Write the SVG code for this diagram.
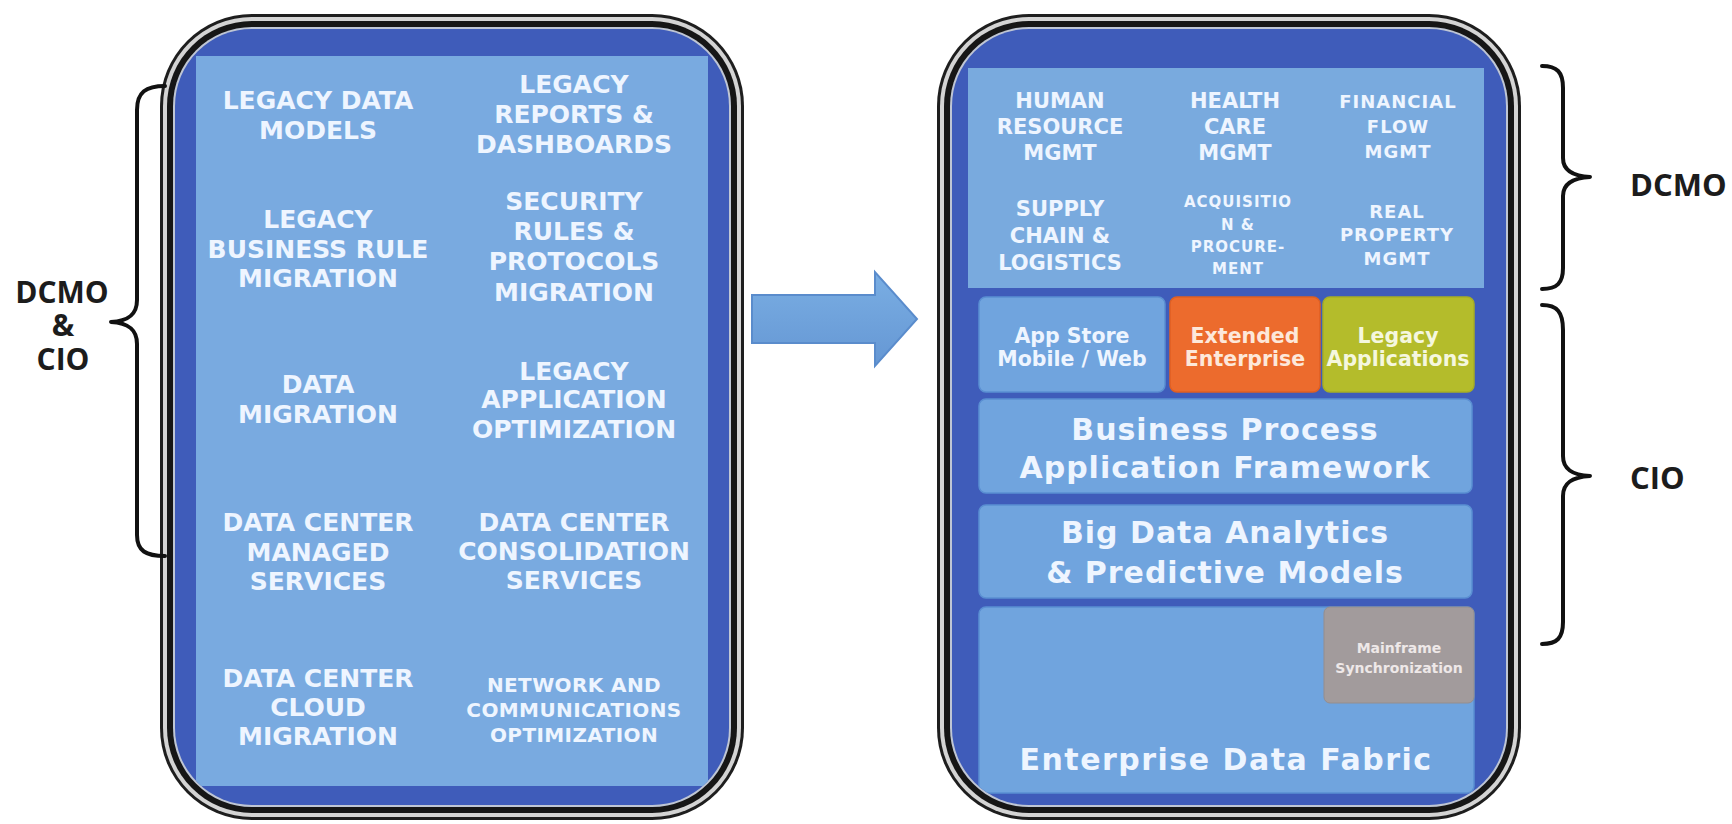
<svg xmlns="http://www.w3.org/2000/svg" width="1732" height="824" viewBox="0 0 1732 824">
<style>
.t{font-family:"DejaVu Sans","Liberation Sans",sans-serif;font-weight:bold;text-anchor:middle;fill:#eef5ff}
.l{font-size:25px}
.s{font-size:20px}
.m{font-size:21px}
.n{font-size:18px;letter-spacing:1px}
.x{font-size:15px;letter-spacing:1px}
.r{font-size:20.5px}
.b{font-size:30px;letter-spacing:1px}
.lab{font-family:"Open Sans","DejaVu Sans",sans-serif;font-weight:bold;fill:#1c1c1c}
.brace{fill:none;stroke:#111;stroke-width:4;stroke-linejoin:round;stroke-linecap:round}
.box{fill:#70a4de;stroke:#5a8fd2;stroke-width:1.5}
</style>
<defs>
<clipPath id="clipL"><rect x="175" y="29" width="554" height="776" rx="77"/></clipPath>
<clipPath id="clipR"><rect x="952" y="29" width="554" height="776" rx="77"/></clipPath>
<linearGradient id="arr" x1="0" y1="0" x2="0" y2="1">
<stop offset="0" stop-color="#7aaee3"/><stop offset="1" stop-color="#6597d4"/>
</linearGradient>
</defs>
<rect width="1732" height="824" fill="#ffffff"/>

<g id="left-frame">
<rect x="160" y="14" width="584" height="806" rx="92" fill="#1e1e1e"/>
<rect x="163" y="17" width="578" height="800" rx="89" fill="#d4d4d4"/>
<rect x="167" y="21" width="570" height="792" rx="85" fill="#161616"/>
<rect x="173" y="27" width="558" height="780" rx="79" fill="#bfc6d4"/>
<rect x="175" y="29" width="554" height="776" rx="77" fill="#3f5cba"/>
<rect x="196" y="56" width="512" height="730" fill="#79aae0" clip-path="url(#clipL)"/>
</g>

<g id="left-items">
<text class="t l" x="318" y="109">LEGACY DATA</text>
<text class="t l" x="318" y="139">MODELS</text>
<text class="t l" x="318" y="228">LEGACY</text>
<text class="t l" x="318" y="258">BUSINESS RULE</text>
<text class="t l" x="318" y="287">MIGRATION</text>
<text class="t l" x="318" y="393">DATA</text>
<text class="t l" x="318" y="423">MIGRATION</text>
<text class="t l" x="318" y="531">DATA CENTER</text>
<text class="t l" x="318" y="561">MANAGED</text>
<text class="t l" x="318" y="590">SERVICES</text>
<text class="t l" x="318" y="687">DATA CENTER</text>
<text class="t l" x="318" y="716">CLOUD</text>
<text class="t l" x="318" y="745">MIGRATION</text>
<text class="t l" x="574" y="93">LEGACY</text>
<text class="t l" x="574" y="123">REPORTS &amp;</text>
<text class="t l" x="574" y="153">DASHBOARDS</text>
<text class="t l" x="574" y="210">SECURITY</text>
<text class="t l" x="574" y="240">RULES &amp;</text>
<text class="t l" x="574" y="270">PROTOCOLS</text>
<text class="t l" x="574" y="301">MIGRATION</text>
<text class="t l" x="574" y="380">LEGACY</text>
<text class="t l" x="574" y="408">APPLICATION</text>
<text class="t l" x="574" y="438">OPTIMIZATION</text>
<text class="t l" x="574" y="531">DATA CENTER</text>
<text class="t l" x="574" y="560">CONSOLIDATION</text>
<text class="t l" x="574" y="589">SERVICES</text>
<text class="t s" x="574" y="692" style="letter-spacing:0.4px">NETWORK AND</text>
<text class="t s" x="574" y="717" style="letter-spacing:0.4px">COMMUNICATIONS</text>
<text class="t s" x="574" y="742" style="letter-spacing:0.4px">OPTIMIZATION</text>
</g>

<g id="right-frame">
<rect x="937" y="14" width="584" height="806" rx="92" fill="#1e1e1e"/>
<rect x="940" y="17" width="578" height="800" rx="89" fill="#d4d4d4"/>
<rect x="944" y="21" width="570" height="792" rx="85" fill="#161616"/>
<rect x="950" y="27" width="558" height="780" rx="79" fill="#bfc6d4"/>
<rect x="952" y="29" width="554" height="776" rx="77" fill="#3f5cba"/>
</g>

<g id="dcmo-panel">
<rect x="968" y="68" width="516" height="220" fill="#79aade" clip-path="url(#clipR)"/>
<text class="t m" x="1060" y="108">HUMAN</text>
<text class="t m" x="1060" y="134">RESOURCE</text>
<text class="t m" x="1060" y="160">MGMT</text>
<text class="t m" x="1235" y="108">HEALTH</text>
<text class="t m" x="1235" y="134">CARE</text>
<text class="t m" x="1235" y="160">MGMT</text>
<text class="t n" x="1398" y="108">FINANCIAL</text>
<text class="t n" x="1398" y="133">FLOW</text>
<text class="t n" x="1398" y="158">MGMT</text>
<text class="t m" x="1060" y="216">SUPPLY</text>
<text class="t m" x="1060" y="243">CHAIN &amp;</text>
<text class="t m" x="1060" y="270">LOGISTICS</text>
<text class="t x" x="1238" y="207">ACQUISITIO</text>
<text class="t x" x="1238" y="230">N &amp;</text>
<text class="t x" x="1238" y="252">PROCURE-</text>
<text class="t x" x="1238" y="274">MENT</text>
<text class="t n" x="1397" y="218">REAL</text>
<text class="t n" x="1397" y="241">PROPERTY</text>
<text class="t n" x="1397" y="265">MGMT</text>
</g>

<g id="app-store">
<rect class="box" x="979" y="297" width="186" height="95" rx="7"/>
<text class="t r" x="1072" y="343">App Store</text>
<text class="t r" x="1072" y="366">Mobile / Web</text>
</g>
<g id="extended-enterprise">
<rect x="1170" y="297" width="150" height="95" rx="7" fill="#ec6b2d" stroke="#e05f22" stroke-width="1.5"/>
<text class="t r" x="1245" y="343" style="fill:#fde8da">Extended</text>
<text class="t r" x="1245" y="366" style="fill:#fde8da">Enterprise</text>
</g>
<g id="legacy-applications">
<rect x="1323" y="297" width="151" height="95" rx="7" fill="#b4bc2b" stroke="#a7ae25" stroke-width="1.5"/>
<text class="t r" x="1398" y="343" style="fill:#f5f7de">Legacy</text>
<text class="t r" x="1398" y="366" style="fill:#f5f7de">Applications</text>
</g>
<g id="business-process">
<rect class="box" x="979" y="399" width="493" height="94" rx="7"/>
<text class="t b" x="1225" y="440">Business Process</text>
<text class="t b" x="1225" y="478">Application Framework</text>
</g>
<g id="big-data">
<rect class="box" x="979" y="505" width="493" height="93" rx="7"/>
<text class="t b" x="1225" y="543">Big Data Analytics</text>
<text class="t b" x="1225" y="583">&amp; Predictive Models</text>
</g>
<g id="enterprise-data-fabric">
<rect class="box" x="979" y="607" width="495" height="186" rx="7" clip-path="url(#clipR)"/>
<text class="t b" x="1226" y="770" style="letter-spacing:1.5px">Enterprise Data Fabric</text>
</g>
<g id="mainframe-sync">
<rect x="1324" y="607" width="150" height="96" rx="6" fill="#a29b9c" stroke="#948d8e" stroke-width="1"/>
<text class="t" x="1399" y="653" style="font-size:14px;fill:#eee8e8">Mainframe</text>
<text class="t" x="1399" y="673" style="font-size:14px;fill:#eee8e8">Synchronization</text>
</g>

<g id="connectors">
<polygon points="752,295 875,295 875,272 917,319 875,366 875,343 752,343" fill="url(#arr)" stroke="#5a8ccc" stroke-width="2" stroke-linejoin="miter"/>
</g>

<g id="label-dcmo-cio">
<path class="brace" d="M165,86 C146,86 137,92 137,110 L137,300 C137,315 128,321 111,322 C128,323 137,329 137,344 L137,535 C137,551 146,556 165,556"/>
<text class="lab" x="62" y="303" text-anchor="middle" style="font-size:30px">DCMO</text>
<text class="lab" x="63" y="336" text-anchor="middle" style="font-size:30px">&amp;</text>
<text class="lab" x="63" y="370" text-anchor="middle" style="font-size:30px">CIO</text>
</g>
<g id="label-dcmo">
<path class="brace" d="M1542,66 C1557,66 1563,72 1563,88 L1563,158 C1563,170 1572,176 1590,177 C1572,178 1563,184 1563,196 L1563,268 C1563,283 1557,289 1542,289"/>
<text class="lab" x="1630" y="196" style="font-size:31px">DCMO</text>
</g>
<g id="label-cio">
<path class="brace" d="M1542,305 C1557,305 1563,312 1563,330 L1563,456 C1563,469 1572,475 1590,476 C1572,477 1563,483 1563,496 L1563,622 C1563,638 1557,644 1542,644"/>
<text class="lab" x="1630" y="489" style="font-size:31px">CIO</text>
</g>
</svg>
